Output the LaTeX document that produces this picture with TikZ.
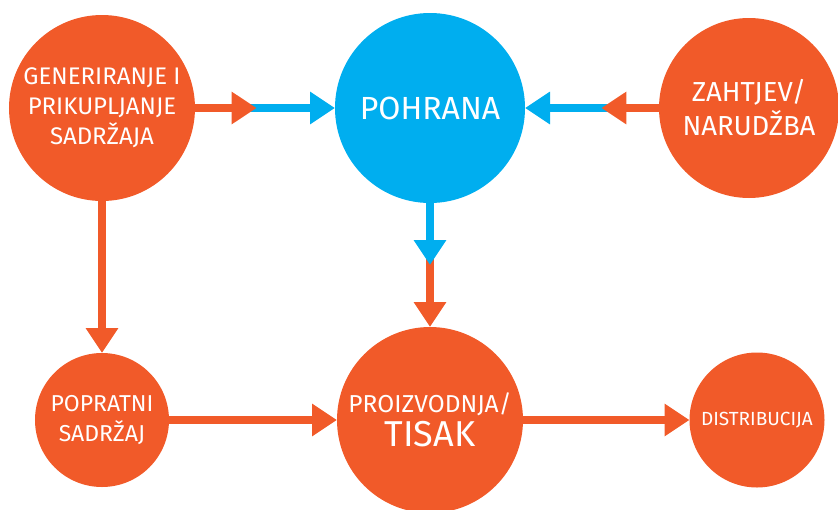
\documentclass[tikz,border=0pt]{standalone}
\usepackage{fontspec}
\setmainfont{Fira Sans}
\usetikzlibrary{arrows.meta}
\definecolor{narancasta}{HTML}{F15A29}
\definecolor{plava}{HTML}{00AEEF}
\begin{document}
\begin{tikzpicture}[x=1pt, y=1pt, node distance={328pt}, line width=8pt,
    main/.style = {circle, fill=narancasta, text=white, inner sep=0pt, outer sep=0pt, align=center},
    pl/.style = {fill=plava},
    arr/.style = {-{Triangle[length=25pt, width=31pt]}}]
            \useasboundingbox (-102,108) rectangle (736,-401);
            \node[main, minimum size=186pt, font=\fontsize{24}{30}\selectfont] (1) {GENERIRANJE I\\PRIKUPLJANJE\\SADRŽAJA};
            \node[main, pl, minimum size=190pt, font=\fontsize{32}{32}\selectfont] (2) [right of=1] {POHRANA};
            \node[main, minimum size=180pt, font=\fontsize{27.5}{34}\selectfont] (3) [right of=2, node distance=319pt] {ZAHTJEV/\\NARUDŽBA};
            \node[main, minimum size=134pt, font=\fontsize{23}{30}\selectfont] (4) [below of=1, node distance=312pt] {POPRATNI\\SADRŽAJ};
            \node[main, minimum size=186pt, font=\fontsize{24.5}{34}\selectfont] (5) [right of=4] {PROIZVODNJA/\\{\fontsize{36}{36}\selectfont TISAK}};
            \node[main, minimum size=135pt, font=\fontsize{19}{20}\selectfont] (6) [right of=5, node distance=327pt] {DISTRIBUCIJA};
            % mjesta gdje se boja strelice mijenja
            \path (1) -- (2) coordinate[pos=0.44] (j1);
            \path (3) -- (2) coordinate[pos=0.43] (j2);
            \path (2) -- (5) coordinate[pos=0.5] (j3);
            \draw[plava, arr, shorten <=-12pt] (j1) -- (2);
            \draw[narancasta, arr] (1) -- (j1);
            \draw[plava, arr, shorten <=-12pt] (j2) -- (2);
            \draw[narancasta, arr] (3) -- (j2);
            \draw[narancasta, arr, shorten <=-12pt] (j3) -- (5);
            \draw[plava, arr] (2) -- (j3);
            \draw[narancasta, arr] (1) -- (4);
            \draw[narancasta, arr] (4) -- (5);
            \draw[narancasta, arr] (5) -- (6);
        \end{tikzpicture}
\end{document}
